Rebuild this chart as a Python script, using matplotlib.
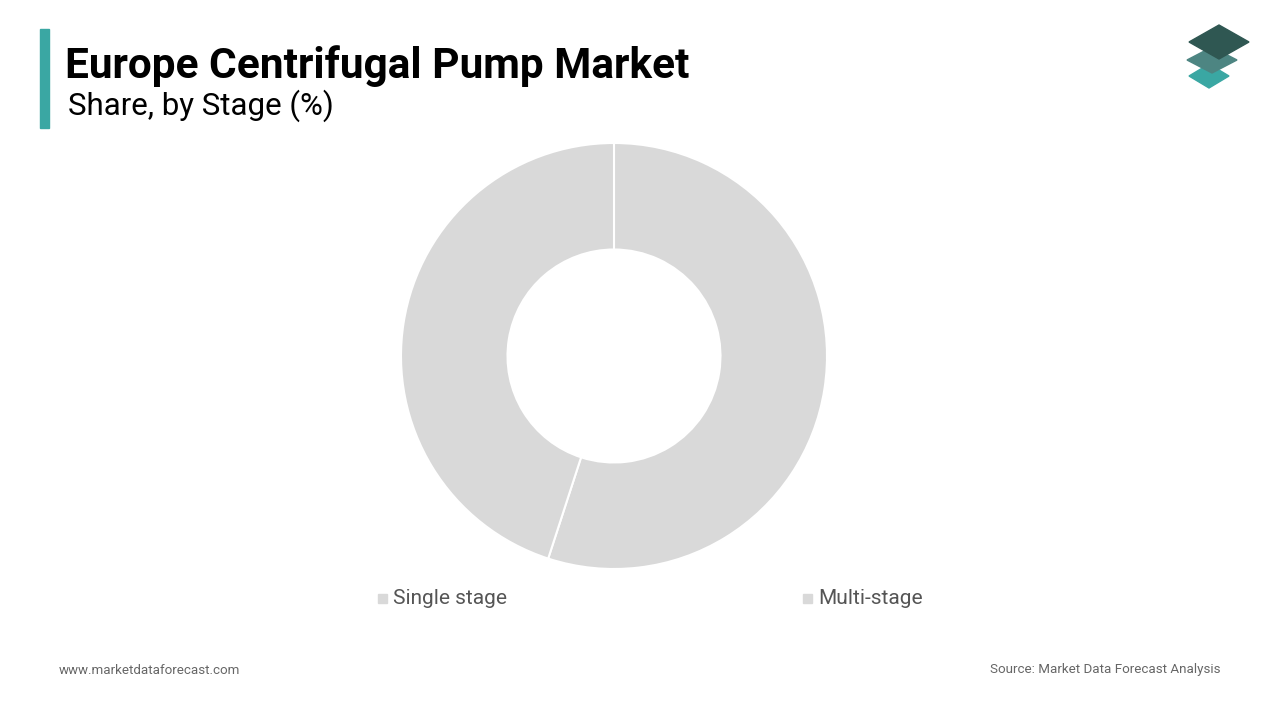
import matplotlib.pyplot as plt
from matplotlib.patches import Polygon, Rectangle

# Data
stages = ['Single stage', 'Multi-stage']
shares = [55, 45]
colors = ['#d9d9d9', '#d9d9d9']

W, H = 1280, 720
fig = plt.figure(figsize=(12.8, 7.2), dpi=100)
fig.patch.set_facecolor('white')

# donut
r = 213
ax = fig.add_axes([(614 - r) / W, (H - 356 - r) / H, 2 * r / W, 2 * r / H])
ax.pie(shares, colors=colors, startangle=90, counterclock=False, radius=1,
       wedgeprops=dict(width=0.5, edgecolor='white', linewidth=1.5))
ax.set_xlim(-1, 1)
ax.set_ylim(-1, 1)
ax.set_aspect('equal')
ax.axis('off')

# title block
fig.add_artist(Rectangle((40 / W, 1 - 128 / H), 9 / W, 99 / H, color='#3aa7a3',
                         transform=fig.transFigure))
fig.text(65 / W, 1 - 66 / H, 'Europe Centrifugal Pump Market', fontsize=30.5,
         fontweight='bold', va='center', family='Roboto')
fig.text(68 / W, 1 - 106 / H, 'Share, by Stage (%)', fontsize=22.5, va='center',
         family='Roboto')

# legend
for name, x in zip(stages, [378, 803]):
    fig.add_artist(Rectangle((x / W, 1 - 603 / H), 9 / W, 9 / H, color='#d9d9d9',
                             transform=fig.transFigure))
    fig.text((x + 15) / W, 1 - 598 / H, name, fontsize=15, va='center',
             color='#555555', family='Roboto')

# footer
fig.text(59 / W, 1 - 670 / H, 'www.marketdataforecast.com', fontsize=9.6,
         color='#666666', va='center', family='Roboto')
fig.text(1220 / W, 1 - 670 / H, 'Source: Market Data Forecast Analysis',
         fontsize=9.6, color='#666666', va='center', ha='right', family='Roboto')

# logo
def diamond(cx, cy, w, h, c):
    pts = [((cx - w) / W, 1 - cy / H), (cx / W, 1 - (cy - h) / H),
           ((cx + w) / W, 1 - cy / H), (cx / W, 1 - (cy + h) / H)]
    fig.add_artist(Polygon(pts, closed=True, color=c, transform=fig.transFigure))

diamond(1209, 76, 20, 12, '#3aa7a3')
diamond(1212, 60, 25, 13, '#4d8582')
diamond(1219, 42, 30, 17, '#2f5752')

fig.savefig('out.png', dpi=100)
